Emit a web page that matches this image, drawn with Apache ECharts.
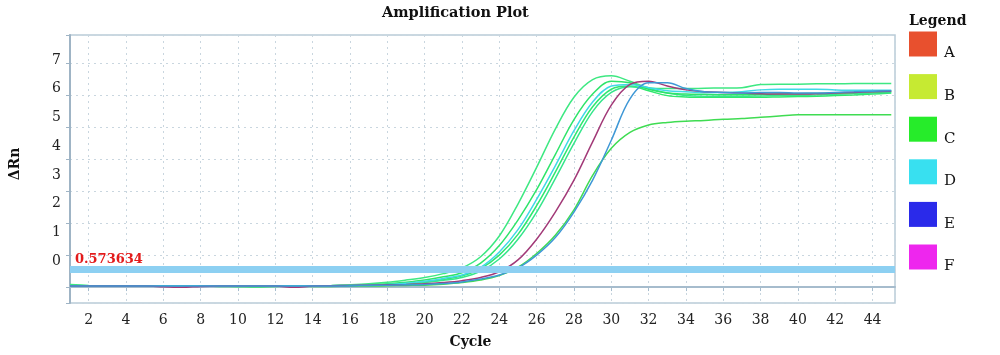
<!DOCTYPE html>
<html>
<head>
<meta charset="utf-8">
<script src="https://cdn.jsdelivr.net/npm/echarts@6/dist/echarts.min.js"></script>
<style>
html,body{margin:0;padding:0;background:#ffffff;}
#chart{width:1000px;height:355px;}
</style>
</head>
<body>
<div id="chart"></div>
<script>
// ---- data ----
const cycles = [1,2,3,4,5,6,7,8,9,10,11,12,13,14,15,16,17,18,19,20,21,22,23,24,25,26,27,28,29,30,31,32,33,34,35,36,37,38,39,40,41,42,43,44,45];
const yTickLabels = [0,1,2,3,4,5,6,7];
const threshold = 0.573634;
const legendNames = ['A','B','C','D','E','F'];

// C (green) curves
const curveC1 = [0.08,0.05,0.03,0.03,0.03,0.03,0.03,0.03,0.03,0.03,0.03,0.03,0.03,0.04,0.05,0.07,0.10,0.15,0.22,0.30,0.42,0.60,0.95,1.60,2.60,3.75,4.95,5.95,6.50,6.62,6.45,6.25,6.22,6.22,6.23,6.24,6.25,6.35,6.36,6.36,6.37,6.37,6.38,6.38,6.38];
const curveC2 = [0.05,0.04,0.03,0.03,0.03,0.03,0.03,0.03,0.03,0.03,0.03,0.03,0.03,0.03,0.04,0.05,0.07,0.10,0.15,0.22,0.32,0.45,0.75,1.30,2.10,3.05,4.15,5.25,6.05,6.45,6.40,6.20,6.08,6.05,6.04,6.03,6.03,6.04,6.05,6.06,6.07,6.08,6.10,6.12,6.14];
const curveC3 = [0.04,0.03,0.03,0.03,0.03,0.03,0.03,0.03,0.02,0.01,0.00,0.02,0.03,0.03,0.04,0.05,0.06,0.08,0.11,0.16,0.24,0.35,0.58,1.00,1.65,2.55,3.60,4.70,5.65,6.20,6.30,6.15,6.00,5.96,5.95,5.95,5.95,5.95,5.96,5.97,5.98,6.00,6.02,6.05,6.08];
const curveC4 = [0.04,0.03,0.03,0.03,0.03,0.03,0.03,0.03,0.03,0.03,0.03,0.03,0.03,0.03,0.04,0.05,0.06,0.07,0.10,0.14,0.21,0.30,0.50,0.88,1.50,2.35,3.40,4.50,5.50,6.10,6.28,6.22,6.08,6.00,5.98,5.98,5.98,5.99,6.00,6.01,6.02,6.04,6.06,6.08,6.10];
const curveC5 = [0.03,0.03,0.03,0.03,0.03,0.03,0.03,0.03,0.03,0.03,0.03,0.03,0.03,0.02,0.02,0.03,0.03,0.04,0.05,0.06,0.09,0.14,0.22,0.36,0.62,1.05,1.62,2.42,3.50,4.35,4.85,5.08,5.16,5.20,5.22,5.26,5.28,5.32,5.36,5.40,5.40,5.40,5.40,5.40,5.40];
// D (cyan) curve
const curveD1 = [0.03,0.03,0.03,0.03,0.03,0.03,0.03,0.03,0.03,0.03,0.03,0.03,0.03,0.03,0.04,0.05,0.06,0.08,0.12,0.18,0.27,0.38,0.62,1.10,1.80,2.75,3.80,4.90,5.80,6.30,6.35,6.25,6.15,6.12,6.10,6.10,6.12,6.18,6.20,6.20,6.20,6.18,6.17,6.17,6.17];
// A (red / purple) curve
const curveA1 = [0.03,0.03,0.03,0.03,0.03,0.01,-0.01,0.02,0.03,0.03,0.03,0.03,-0.01,0.03,0.04,0.05,0.06,0.07,0.08,0.10,0.14,0.20,0.30,0.48,0.85,1.50,2.35,3.35,4.55,5.70,6.35,6.45,6.30,6.18,6.12,6.10,6.08,6.06,6.05,6.05,6.06,6.08,6.10,6.12,6.14];
// E (blue) curve
const curveE1 = [0.03,0.03,0.03,0.03,0.03,0.03,0.03,0.03,0.03,0.03,0.03,0.03,0.03,0.03,0.03,0.04,0.05,0.06,0.07,0.08,0.11,0.16,0.25,0.38,0.60,1.00,1.55,2.35,3.35,4.60,5.90,6.40,6.40,6.22,6.12,6.10,6.08,6.10,6.10,6.08,6.08,6.10,6.12,6.14,6.15];

// ---- styles ----
const FONT = 'DejaVu Serif';
const legendColors = {A:'#e8502e', B:'#c6ea32', C:'#26ec2a', D:'#38e0f0', E:'#2a2aea', F:'#ee26ee'};

const curves = [
  {name:'C', values:curveC5, color:'#3fdc52'},
  {name:'C', values:curveC3, color:'#2fe86e'},
  {name:'C', values:curveC4, color:'#36e68c'},
  {name:'C', values:curveC2, color:'#2ee46a'},
  {name:'C', values:curveC1, color:'#3ee882'},
  {name:'D', values:curveD1, color:'#40d8e6'},
  {name:'A', values:curveA1, color:'#a23a78'},
  {name:'E', values:curveE1, color:'#3f98d6'}
];

const series = curves.map(c => ({
  name: c.name,
  type: 'line',
  xAxisIndex: 0,
  yAxisIndex: 0,
  data: cycles.map((x, i) => [x, c.values[i]]),
  showSymbol: false,
  smooth: 0.35,
  lineStyle: {color: c.color, width: 1.5},
  itemStyle: {color: legendColors[c.name]},
  emphasis: {disabled: true},
  silent: true
}));
['B','F'].forEach(n => series.push({
  name: n, type: 'line', data: [], itemStyle: {color: legendColors[n]}, lineStyle: {color: legendColors[n]}
}));
series.push({
  name: 'threshold',
  type: 'line',
  data: [],
  xAxisIndex: 0,
  yAxisIndex: 0,
  markLine: {
    silent: true,
    symbol: 'none',
    lineStyle: {color: '#8dd0f2', width: 7, type: 'solid'},
    label: {
      show: true,
      position: 'insideStartTop',
      formatter: String(threshold),
      color: '#e31b1b',
      fontFamily: FONT,
      fontWeight: 'bold',
      fontSize: 13,
      distance: [5, 3]
    },
    data: [{yAxis: threshold}]
  }
});

const chart = echarts.init(document.getElementById('chart'), null, {renderer: 'canvas'});
chart.setOption({
  animation: false,
  backgroundColor: '#ffffff',
  title: [
    {text: 'Amplification Plot', left: 382, top: 6, padding: 0,
     textStyle: {fontFamily: FONT, fontWeight: 'bold', fontSize: 14.5, color: '#111'}},
    {text: 'Legend', left: 909, top: 14, padding: 0,
     textStyle: {fontFamily: FONT, fontWeight: 'bold', fontSize: 14, color: '#111'}}
  ],
  legend: {
    orient: 'vertical',
    left: 909,
    top: 31.5,
    padding: 0,
    itemWidth: 28,
    itemHeight: 25,
    itemGap: 13.1,
    icon: 'rect',
    selectedMode: false,
    data: legendNames.map(n => ({name: n, itemStyle: {color: legendColors[n]}})),
    formatter: n => '{t|' + n + '}',
    textStyle: {
      fontFamily: FONT, fontSize: 15, color: '#111',
      rich: {t: {fontFamily: FONT, fontSize: 15, color: '#111', padding: [19, 0, 0, 2]}}
    }
  },
  grid: {
    left: 67, right: 105, top: 35, bottom: 52,
    show: true, borderColor: '#b9cbd8', borderWidth: 1.5, backgroundColor: 'transparent'
  },
  xAxis: {
    type: 'value',
    min: 1, max: 45.2,
    splitNumber: 22, minInterval: 2, maxInterval: 2,
    name: 'Cycle',
    nameLocation: 'middle',
    nameGap: 32,
    nameTextStyle: {fontFamily: FONT, fontWeight: 'bold', fontSize: 14, color: '#111', padding: [0, 24, 0, 0]},
    axisLine: {show: true, lineStyle: {color: '#a6bccd', width: 2}},
    axisTick: {show: true, length: 4, lineStyle: {color: '#a6bccd'}},
    axisLabel: {fontFamily: FONT, fontSize: 14, color: '#222', margin: 10, showMinLabel: false, showMaxLabel: false,
      formatter: v => (Math.abs(v - Math.round(v)) < 1e-6 ? String(Math.round(v)) : '')},
    splitLine: {show: true, lineStyle: {color: '#c9d6df', type: [2, 4], width: 1}}
  },
  yAxis: [
    {
      type: 'value',
      min: -0.5, max: 7.9,
      splitNumber: 8, minInterval: 1, maxInterval: 1,
      name: '\u0394Rn',
      nameLocation: 'middle',
      nameRotate: 90,
      nameGap: 48,
      nameTextStyle: {fontFamily: FONT, fontWeight: 'bold', fontSize: 14, color: '#111', padding: [0, 0, 0, 10]},
      axisLine: {show: true, lineStyle: {color: '#9fb4c5', width: 2}},
      axisTick: {show: true, length: 4, lineStyle: {color: '#9fb4c5'}},
      axisLabel: {show: false},
      splitLine: {show: true, lineStyle: {color: '#c9d6df', type: [2, 4], width: 1}}
    },
    {
      type: 'value',
      position: 'left',
      min: -1.46, max: 7.87,
      splitNumber: 9, minInterval: 1, maxInterval: 1,
      axisLine: {show: false},
      axisTick: {show: false},
      splitLine: {show: false},
      axisLabel: {
        fontFamily: FONT, fontSize: 14, color: '#222', margin: 9,
        showMinLabel: false, showMaxLabel: false,
        formatter: v => {
          const r = Math.round(v);
          return (Math.abs(v - r) < 1e-6 && yTickLabels.indexOf(r) >= 0) ? String(r) : '';
        }
      }
    }
  ],
  series: series
});
</script>
</body>
</html>
